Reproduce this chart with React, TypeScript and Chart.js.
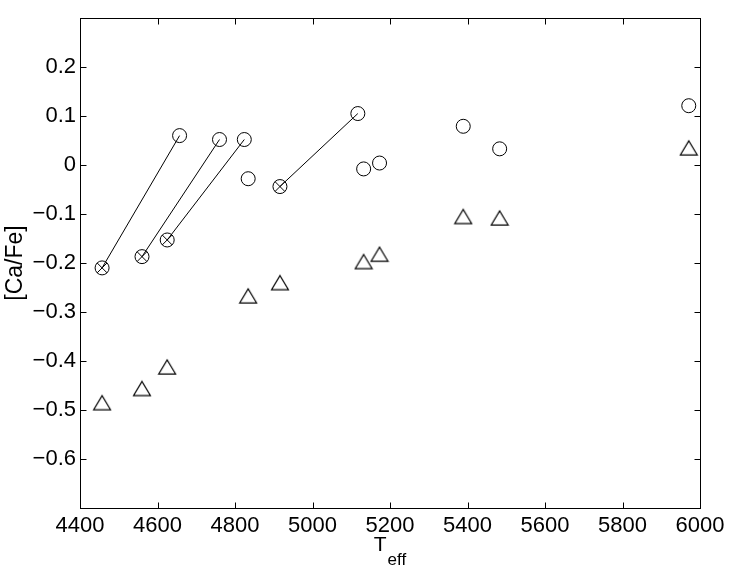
import React, { useEffect, useRef } from 'react';
import { Chart, registerables } from 'chart.js';

Chart.register(...registerables);

// ---- data ----
const xTickValues = [4400, 4600, 4800, 5000, 5200, 5400, 5600, 5800, 6000];
const yTickValues = [-0.6, -0.5, -0.4, -0.3, -0.2, -0.1, 0, 0.1, 0.2];
const xMin = 4400;
const xMax = 6000;
const yMin = -0.7;
const yMax = 0.3;

// crossed circles (original) and their shifted circles (+200 K)
const crossedTeff = [4457, 4560, 4625, 4916];
const crossedCaFe = [-0.21, -0.187, -0.153, -0.044];
const shiftedTeff = [4657, 4760, 4824, 5117];
const shiftedCaFe = [0.06, 0.052, 0.052, 0.105];

// plain circles
const circleTeff = [4834, 5132, 5173, 5389, 5483, 5971];
const circleCaFe = [-0.028, -0.008, 0.004, 0.079, 0.033, 0.121];

// triangles
const triangleTeff = [4457, 4560, 4625, 4834, 4916, 5132, 5173, 5389, 5483, 5971];
const triangleCaFe = [-0.485, -0.456, -0.412, -0.267, -0.24, -0.197, -0.182, -0.105, -0.108, 0.035];

const xTitleMain = 'T';
const xTitleSub = 'eff';
const yTitle = '[Ca/Fe]';

const FONT = '"Liberation Sans", Arial, Helvetica, sans-serif';

function pts(xs: number[], ys: number[]) {
  return xs.map((x, i) => ({ x, y: ys[i] }));
}

function makeTriangle(): HTMLCanvasElement {
  const c = document.createElement('canvas');
  c.width = 20;
  c.height = 18;
  const ctx = c.getContext('2d')!;
  ctx.strokeStyle = '#000';
  ctx.lineWidth = 1.25;
  ctx.lineJoin = 'miter';
  ctx.beginPath();
  ctx.moveTo(10, 2);
  ctx.lineTo(18.4, 16);
  ctx.lineTo(1.6, 16);
  ctx.closePath();
  ctx.stroke();
  return c;
}

function fmtY(v: number): string {
  if (Math.abs(v) < 1e-9) return '0';
  return (v < 0 ? '\u2212' : '') + Math.abs(v).toFixed(1);
}

const framePlugin = {
  id: 'matlabFrame',
  afterDraw(chart: any) {
    const { ctx, chartArea: a, scales } = chart;
    const L = Math.round(a.left) + 0.5;
    const R = Math.round(a.right) + 0.5;
    const T = Math.round(a.top) + 0.5;
    const B = Math.round(a.bottom) + 0.5;
    const tl = 6;
    ctx.save();
    ctx.strokeStyle = '#000';
    ctx.lineWidth = 1;
    ctx.strokeRect(L, T, R - L, B - T);
    ctx.beginPath();
    for (const v of xTickValues) {
      if (v <= xMin || v >= xMax) continue;
      const px = Math.round(scales.x.getPixelForValue(v)) + 0.5;
      ctx.moveTo(px, B);
      ctx.lineTo(px, B - tl);
      ctx.moveTo(px, T);
      ctx.lineTo(px, T + tl);
    }
    for (const v of yTickValues) {
      if (v <= yMin || v >= yMax) continue;
      const py = Math.round(scales.y.getPixelForValue(v)) + 0.5;
      ctx.moveTo(L, py);
      ctx.lineTo(L + tl, py);
      ctx.moveTo(R, py);
      ctx.lineTo(R - tl, py);
    }
    ctx.stroke();

    // x title: T with subscript eff
    ctx.fillStyle = '#000';
    ctx.textBaseline = 'alphabetic';
    ctx.textAlign = 'left';
    ctx.font = `21px ${FONT}`;
    const wT = ctx.measureText(xTitleMain).width;
    ctx.font = `17px ${FONT}`;
    const wE = ctx.measureText(xTitleSub).width;
    const cx = (a.left + a.right) / 2;
    const start = cx - (wT + wE + 1) / 2;
    ctx.font = `21px ${FONT}`;
    ctx.fillText(xTitleMain, start, 551);
    ctx.font = `17px ${FONT}`;
    ctx.fillText(xTitleSub, start + wT + 1, 565);

    // y title
    ctx.save();
    ctx.translate(16, (a.top + a.bottom) / 2);
    ctx.rotate(-Math.PI / 2);
    ctx.textAlign = 'center';
    ctx.textBaseline = 'middle';
    ctx.font = `23px ${FONT}`;
    ctx.fillText(yTitle, 0, 0);
    ctx.restore();

    ctx.restore();
  },
};

export default function App() {
  const ref = useRef<HTMLCanvasElement | null>(null);

  useEffect(() => {
    document.body.style.margin = '0';
    const canvas = ref.current;
    if (!canvas) return;
    const tri = makeTriangle();
    const markerBase = {
      showLine: false,
      borderColor: '#000',
      backgroundColor: 'rgba(0,0,0,0)',
      borderWidth: 1,
      pointBorderWidth: 1,
      pointHoverRadius: 7,
    };
    const lineSets = crossedTeff.map((t, i) => ({
      type: 'scatter' as const,
      data: [
        { x: t, y: crossedCaFe[i] },
        { x: shiftedTeff[i], y: shiftedCaFe[i] },
      ],
      showLine: true,
      borderColor: '#000',
      borderWidth: 1,
      pointRadius: 0,
      pointHoverRadius: 0,
    }));

    const chart = new Chart(canvas, {
      type: 'scatter',
      data: {
        datasets: [
          { ...markerBase, data: pts(crossedTeff, crossedCaFe), pointStyle: 'circle', pointRadius: 7 },
          { ...markerBase, data: pts(crossedTeff, crossedCaFe), pointStyle: 'crossRot', pointRadius: 7 },
          { ...markerBase, data: pts(shiftedTeff, shiftedCaFe), pointStyle: 'circle', pointRadius: 7 },
          { ...markerBase, data: pts(circleTeff, circleCaFe), pointStyle: 'circle', pointRadius: 7 },
          { ...markerBase, data: pts(triangleTeff, triangleCaFe), pointStyle: tri as any, pointRadius: 9 },
          ...lineSets,
        ] as any,
      },
      options: {
        animation: false,
        responsive: false,
        events: [],
        layout: { padding: { top: 18, right: 32, left: 0, bottom: 0 } },
        plugins: {
          legend: { display: false },
          tooltip: { enabled: false },
          title: { display: false },
        },
        scales: {
          x: {
            type: 'linear',
            min: xMin,
            max: xMax,
            grid: { display: false, drawTicks: false },
            border: { display: false },
            afterBuildTicks: (s: any) => {
              s.ticks = xTickValues.map((v) => ({ value: v }));
            },
            afterFit: (s: any) => {
              s.height = 62;
            },
            ticks: {
              autoSkip: false,
              maxRotation: 0,
              minRotation: 0,
              padding: 5,
              color: '#000',
              font: { family: FONT, size: 22 },
              callback: (v: any) => String(v),
            },
          },
          y: {
            type: 'linear',
            min: yMin,
            max: yMax,
            grid: { display: false, drawTicks: false },
            border: { display: false },
            afterBuildTicks: (s: any) => {
              s.ticks = yTickValues.map((v) => ({ value: v }));
            },
            afterFit: (s: any) => {
              s.width = 80;
            },
            ticks: {
              autoSkip: false,
              padding: 4,
              color: '#000',
              font: { family: FONT, size: 22 },
              callback: (v: any) => fmtY(Number(v)),
            },
          },
        },
      },
      plugins: [framePlugin],
    });
    return () => chart.destroy();
  }, []);

  return (
    <div style={{ position: 'fixed', left: 0, top: 0, width: 732, height: 570, background: '#fff' }}>
      <canvas ref={ref} width={732} height={570} style={{ display: 'block' }} />
    </div>
  );
}
